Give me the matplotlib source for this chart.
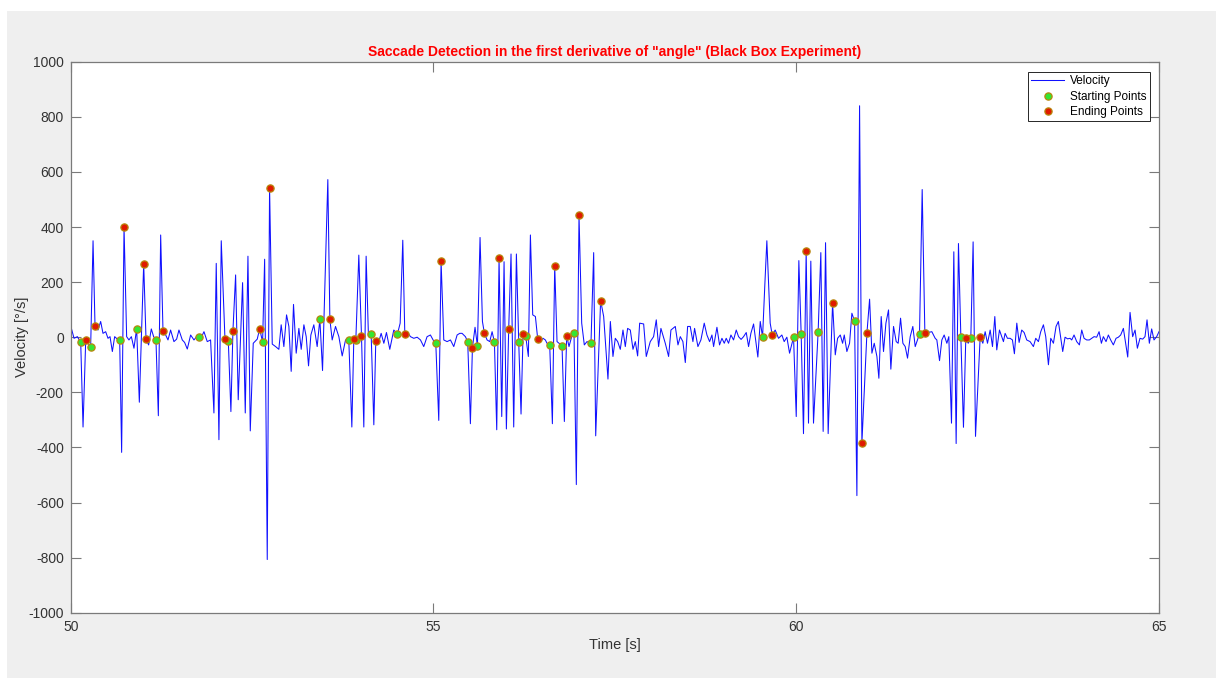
import matplotlib
matplotlib.use("Agg")
import matplotlib.pyplot as plt
from matplotlib.patches import Rectangle

# ---------------- data ----------------
time_s = [
    50.000, 50.046, 50.092, 50.138, 50.170, 50.207, 50.275, 50.308, 50.335, 50.376,
    50.413, 50.445, 50.482, 50.514, 50.542, 50.574, 50.606, 50.643, 50.675, 50.702,
    50.735, 50.771, 50.803, 50.836, 50.872, 50.909, 50.946, 51.006, 51.038, 51.074,
    51.111, 51.143, 51.175, 51.208, 51.240, 51.272, 51.309, 51.341, 51.377, 51.423,
    51.460, 51.492, 51.538, 51.570, 51.607, 51.653, 51.699, 51.736, 51.768, 51.804,
    51.837, 51.882, 51.928, 51.974, 52.006, 52.043, 52.075, 52.126, 52.172, 52.208,
    52.236, 52.273, 52.309, 52.369, 52.406, 52.443, 52.475, 52.516, 52.571, 52.604,
    52.645, 52.673, 52.709, 52.741, 52.778, 52.824, 52.869, 52.901, 52.938, 52.975,
    53.007, 53.039, 53.071, 53.108, 53.145, 53.177, 53.214, 53.246, 53.278, 53.310,
    53.351, 53.397, 53.434, 53.471, 53.544, 53.572, 53.604, 53.650, 53.696, 53.742,
    53.788, 53.833, 53.875, 53.902, 53.930, 53.971, 54.008, 54.040, 54.072, 54.104,
    54.141, 54.178, 54.205, 54.247, 54.279, 54.316, 54.352, 54.398, 54.453, 54.504,
    54.541, 54.577, 54.605, 54.637, 54.683, 54.729, 54.775, 54.821, 54.866, 54.912,
    54.958, 54.995, 55.032, 55.073, 55.105, 55.142, 55.188, 55.234, 55.280, 55.326,
    55.362, 55.394, 55.440, 55.472, 55.509, 55.537, 55.573, 55.606, 55.642, 55.675,
    55.702, 55.739, 55.776, 55.808, 55.840, 55.872, 55.904, 55.941, 55.973, 56.005,
    56.037, 56.069, 56.106, 56.143, 56.175, 56.207, 56.235, 56.271, 56.308, 56.336,
    56.368, 56.405, 56.437, 56.473, 56.510, 56.542, 56.565, 56.602, 56.639, 56.671,
    56.703, 56.740, 56.772, 56.804, 56.836, 56.868, 56.905, 56.937, 56.969, 57.006,
    57.043, 57.079, 57.116, 57.171, 57.208, 57.236, 57.304, 57.346, 57.405, 57.438,
    57.474, 57.506, 57.539, 57.575, 57.612, 57.644, 57.676, 57.713, 57.750, 57.782,
    57.814, 57.842, 57.897, 57.933, 57.988, 58.034, 58.071, 58.103, 58.135, 58.195,
    58.241, 58.273, 58.333, 58.370, 58.402, 58.438, 58.471, 58.503, 58.539, 58.576,
    58.599, 58.645, 58.686, 58.732, 58.769, 58.806, 58.838, 58.861, 58.907, 58.943,
    58.976, 59.008, 59.035, 59.067, 59.100, 59.136, 59.173, 59.205, 59.240, 59.274,
    59.311, 59.343, 59.375, 59.412, 59.471, 59.504, 59.536, 59.568, 59.595, 59.641,
    59.669, 59.710, 59.756, 59.802, 59.834, 59.871, 59.908, 59.963, 60.000, 60.036,
    60.068, 60.100, 60.137, 60.169, 60.201, 60.238, 60.302, 60.339, 60.371, 60.404,
    60.440, 60.501, 60.538, 60.570, 60.607, 60.639, 60.662, 60.698, 60.735, 60.767,
    60.804, 60.836, 60.873, 60.905, 60.974, 61.011, 61.043, 61.075, 61.112, 61.139,
    61.171, 61.203, 61.236, 61.272, 61.304, 61.341, 61.378, 61.405, 61.438, 61.470,
    61.502, 61.534, 61.571, 61.607, 61.640, 61.699, 61.736, 61.773, 61.800, 61.835,
    61.869, 61.915, 61.938, 61.975, 62.007, 62.039, 62.076, 62.103, 62.140, 62.172,
    62.204, 62.236, 62.269, 62.305, 62.337, 62.370, 62.406, 62.438, 62.471, 62.535,
    62.572, 62.604, 62.636, 62.673, 62.705, 62.737, 62.764, 62.801, 62.856, 62.879,
    62.911, 62.948, 62.980, 63.007, 63.040, 63.072, 63.108, 63.141, 63.177, 63.223,
    63.269, 63.301, 63.338, 63.370, 63.407, 63.439, 63.476, 63.508, 63.545, 63.581,
    63.613, 63.646, 63.673, 63.705, 63.740, 63.774, 63.797, 63.829, 63.866, 63.903,
    63.935, 63.967, 64.004, 64.040, 64.073, 64.105, 64.141, 64.174, 64.206, 64.233,
    64.270, 64.302, 64.334, 64.371, 64.408, 64.440, 64.472, 64.509, 64.536, 64.569,
    64.601, 64.637, 64.670, 64.702, 64.738, 64.775, 64.807, 64.835, 64.867, 64.899,
    64.931, 64.968, 65.000,
]
velocity = [
    41, -4, 2, -19, -326, -10, -35, 350, 42, 26,
    57, 14, 20, -4, 2, -52, 2, -7, -10, -418,
    401, 2, -10, 2, -40, 31, -236, 266, -7, -28,
    30, 2, -9, -285, 371, 23, 8, -10, 26, -16,
    -7, 26, -10, -19, -43, 8, -10, 2, -1, 2,
    20, -16, -10, -275, 268, -372, 350, -5, -12, -270,
    23, 226, -227, 198, -275, 294, -340, -22, -7, 30,
    -17, 283, -807, 543, -25, -34, -44, 45, -34, 81,
    39, -124, 119, -58, 32, -44, 45, 2, -104, 8,
    45, -34, 65, -121, 572, 65, -10, 39, 2, -68,
    -10, -10, -326, -7, -10, 298, 5, -326, 294, 2,
    12, -318, -13, -16, 14, -22, 17, -44, 26, 12,
    51, 352, 12, 20, 2, -4, 0, -10, -34, 2,
    8, -10, -22, -302, 276, -10, -16, -10, -34, 8,
    14, 14, 2, -16, -314, -38, 36, -32, 362, 57,
    14, -10, -16, 20, -17, -336, 287, -288, 274, -333,
    31, 302, -326, 302, -17, -279, 13, 5, -70, 371,
    81, 75, -7, -16, -4, -10, -22, -28, -314, 260,
    -16, -24, -32, -306, 5, -34, 2, 17, -535, 443,
    51, -28, -16, -22, 307, -358, 133, 75, -152, 57,
    -70, -4, -16, -44, 26, -34, 32, 26, -44, -16,
    -68, 51, 48, -70, -16, 2, 63, -34, 32, -22,
    -70, 26, 39, -28, 2, -16, -92, 39, 39, -16,
    32, -34, -10, 51, 8, -16, 8, -34, 36, -28,
    -4, -22, -4, -22, 8, -10, 26, 2, -8, 2,
    17, -34, 14, 48, -72, 57, 0, 195, 350, 51,
    8, 26, -4, 8, -16, 0, -58, 0, -288, 278,
    12, -350, 313, -312, 276, -312, 20, 307, -342, 343,
    -350, 124, -64, -4, 8, -22, 8, -52, -22, 87,
    58, -575, 840, -385, 14, 138, -58, -22, -70, -149,
    75, -52, 51, 99, -116, 39, -16, -22, 69, -22,
    -34, -76, 2, 39, -34, 12, 536, 14, 26, 18,
    20, -4, -10, -85, -10, 8, -22, 2, -312, 310,
    -386, 340, 0, -327, -4, -22, -4, 346, -360, 0,
    -22, 20, -22, 26, -34, 75, -46, 26, -16, 14,
    -4, -4, -10, -60, 51, -19, 26, 17, -10, -16,
    -34, -4, -16, 20, 45, 2, -100, -4, -22, 39,
    57, -4, -52, 0, -6, -4, -10, 8, -16, -28,
    26, -4, -10, -10, -4, 2, 0, 20, -22, 2,
    -16, 8, -10, -28, -4, 0, 8, 32, -16, -72,
    90, 2, 26, -40, -4, -7, 2, 63, -22, 30,
    -10, 2, 20,
]

start_t = [50.138, 50.275, 50.675, 50.909, 51.175, 51.768, 52.172, 52.645, 53.434, 53.833,
           53.930, 54.141, 54.504, 55.032, 55.472, 55.606, 55.840, 56.175, 56.271, 56.602,
           56.772, 56.937, 57.171, 59.536, 59.963, 60.068, 60.302, 60.804, 61.699, 62.269,
           62.406]
start_v = [-19, -35, -10, 31, -9, -1, -12, -17, 65, -10,
           -10, 12, 12, -22, -16, -32, -17, -17, 5, -28,
           -32, 17, -22, 0, 0, 12, 20, 58, 12, 0,
           -4]
end_t = [50.207, 50.335, 50.735, 51.006, 51.038, 51.272, 52.126, 52.236, 52.604, 52.741,
         53.572, 53.902, 54.008, 54.205, 54.605, 55.105, 55.537, 55.702, 55.904, 56.037,
         56.235, 56.437, 56.671, 56.836, 57.006, 57.304, 59.669, 60.137, 60.501, 60.905,
         60.974, 61.773, 62.337, 62.535]
end_v = [-10, 42, 401, 266, -7, 23, -5, 23, 30, 543,
         65, -7, 5, -13, 12, 276, -38, 14, 287, 31,
         13, -7, 260, 5, 443, 133, 8, 313, 124, -385,
         14, 14, -4, 0]

x_ticks = [50, 55, 60, 65]
y_ticks = list(range(-1000, 1001, 200))
title_text = 'Saccade Detection in the first derivative of "angle" (Black Box Experiment)'
legend_labels = ["Velocity", "Starting Points", "Ending Points"]

# ---------------- figure ----------------
plt.rcParams["font.family"] = ["Liberation Sans", "DejaVu Sans"]
plt.rcParams["axes.unicode_minus"] = False
fig = plt.figure(figsize=(12.16, 6.78), dpi=100, facecolor="white")
fig.patches.append(Rectangle((7 / 1216, 0), 1 - 7 / 1216, 1 - 11 / 678,
                             transform=fig.transFigure, facecolor="#efefef",
                             edgecolor="none", zorder=-10))

ax = fig.add_axes([70.7 / 1216, (678 - 612.7) / 678,
                   (1159 - 70.7) / 1216, (612.7 - 61.7) / 678])
ax.set_facecolor("white")

ax.plot(time_s, velocity, color="#1010ff", lw=0.75, label=legend_labels[0])
ax.plot(start_t, start_v, linestyle="none", marker="o", markersize=5.2,
        markerfacecolor="#33e633", markeredgecolor="#b8860b", markeredgewidth=0.9,
        label=legend_labels[1])
ax.plot(end_t, end_v, linestyle="none", marker="o", markersize=5.2,
        markerfacecolor="#e01a00", markeredgecolor="#b8860b", markeredgewidth=0.9,
        label=legend_labels[2])

ax.set_xlim(50, 65)
ax.set_ylim(-1000, 1000)
ax.set_xticks(x_ticks)
ax.set_yticks(y_ticks)

axis_col = "#7a7a7a"
text_col = "#333333"
for s in ax.spines.values():
    s.set_color(axis_col)
    s.set_linewidth(0.9)
ax.tick_params(direction="in", length=7, width=0.8, color=axis_col,
               labelcolor=text_col, labelsize=10, top=True, right=True, pad=5)

ax.set_xlabel("Time [s]", fontsize=10.5, color=text_col, labelpad=3)
ax.set_ylabel("Velocity [°/s]", fontsize=10.5, color=text_col)
ax.yaxis.set_label_coords(-0.038, 0.5)
ax.set_title(title_text, fontsize=10, fontweight="bold", color="#ff0000", pad=4)

leg = ax.legend(loc="upper right", bbox_to_anchor=(0.9915, 0.981), fontsize=8.5,
                frameon=True, fancybox=False, framealpha=1, edgecolor="#262626",
                handlelength=2.8, handletextpad=0.5, borderpad=0.25,
                labelspacing=0.3, borderaxespad=0)
leg.get_frame().set_linewidth(0.7)

fig.savefig("out.png", dpi=100, facecolor=fig.get_facecolor())
